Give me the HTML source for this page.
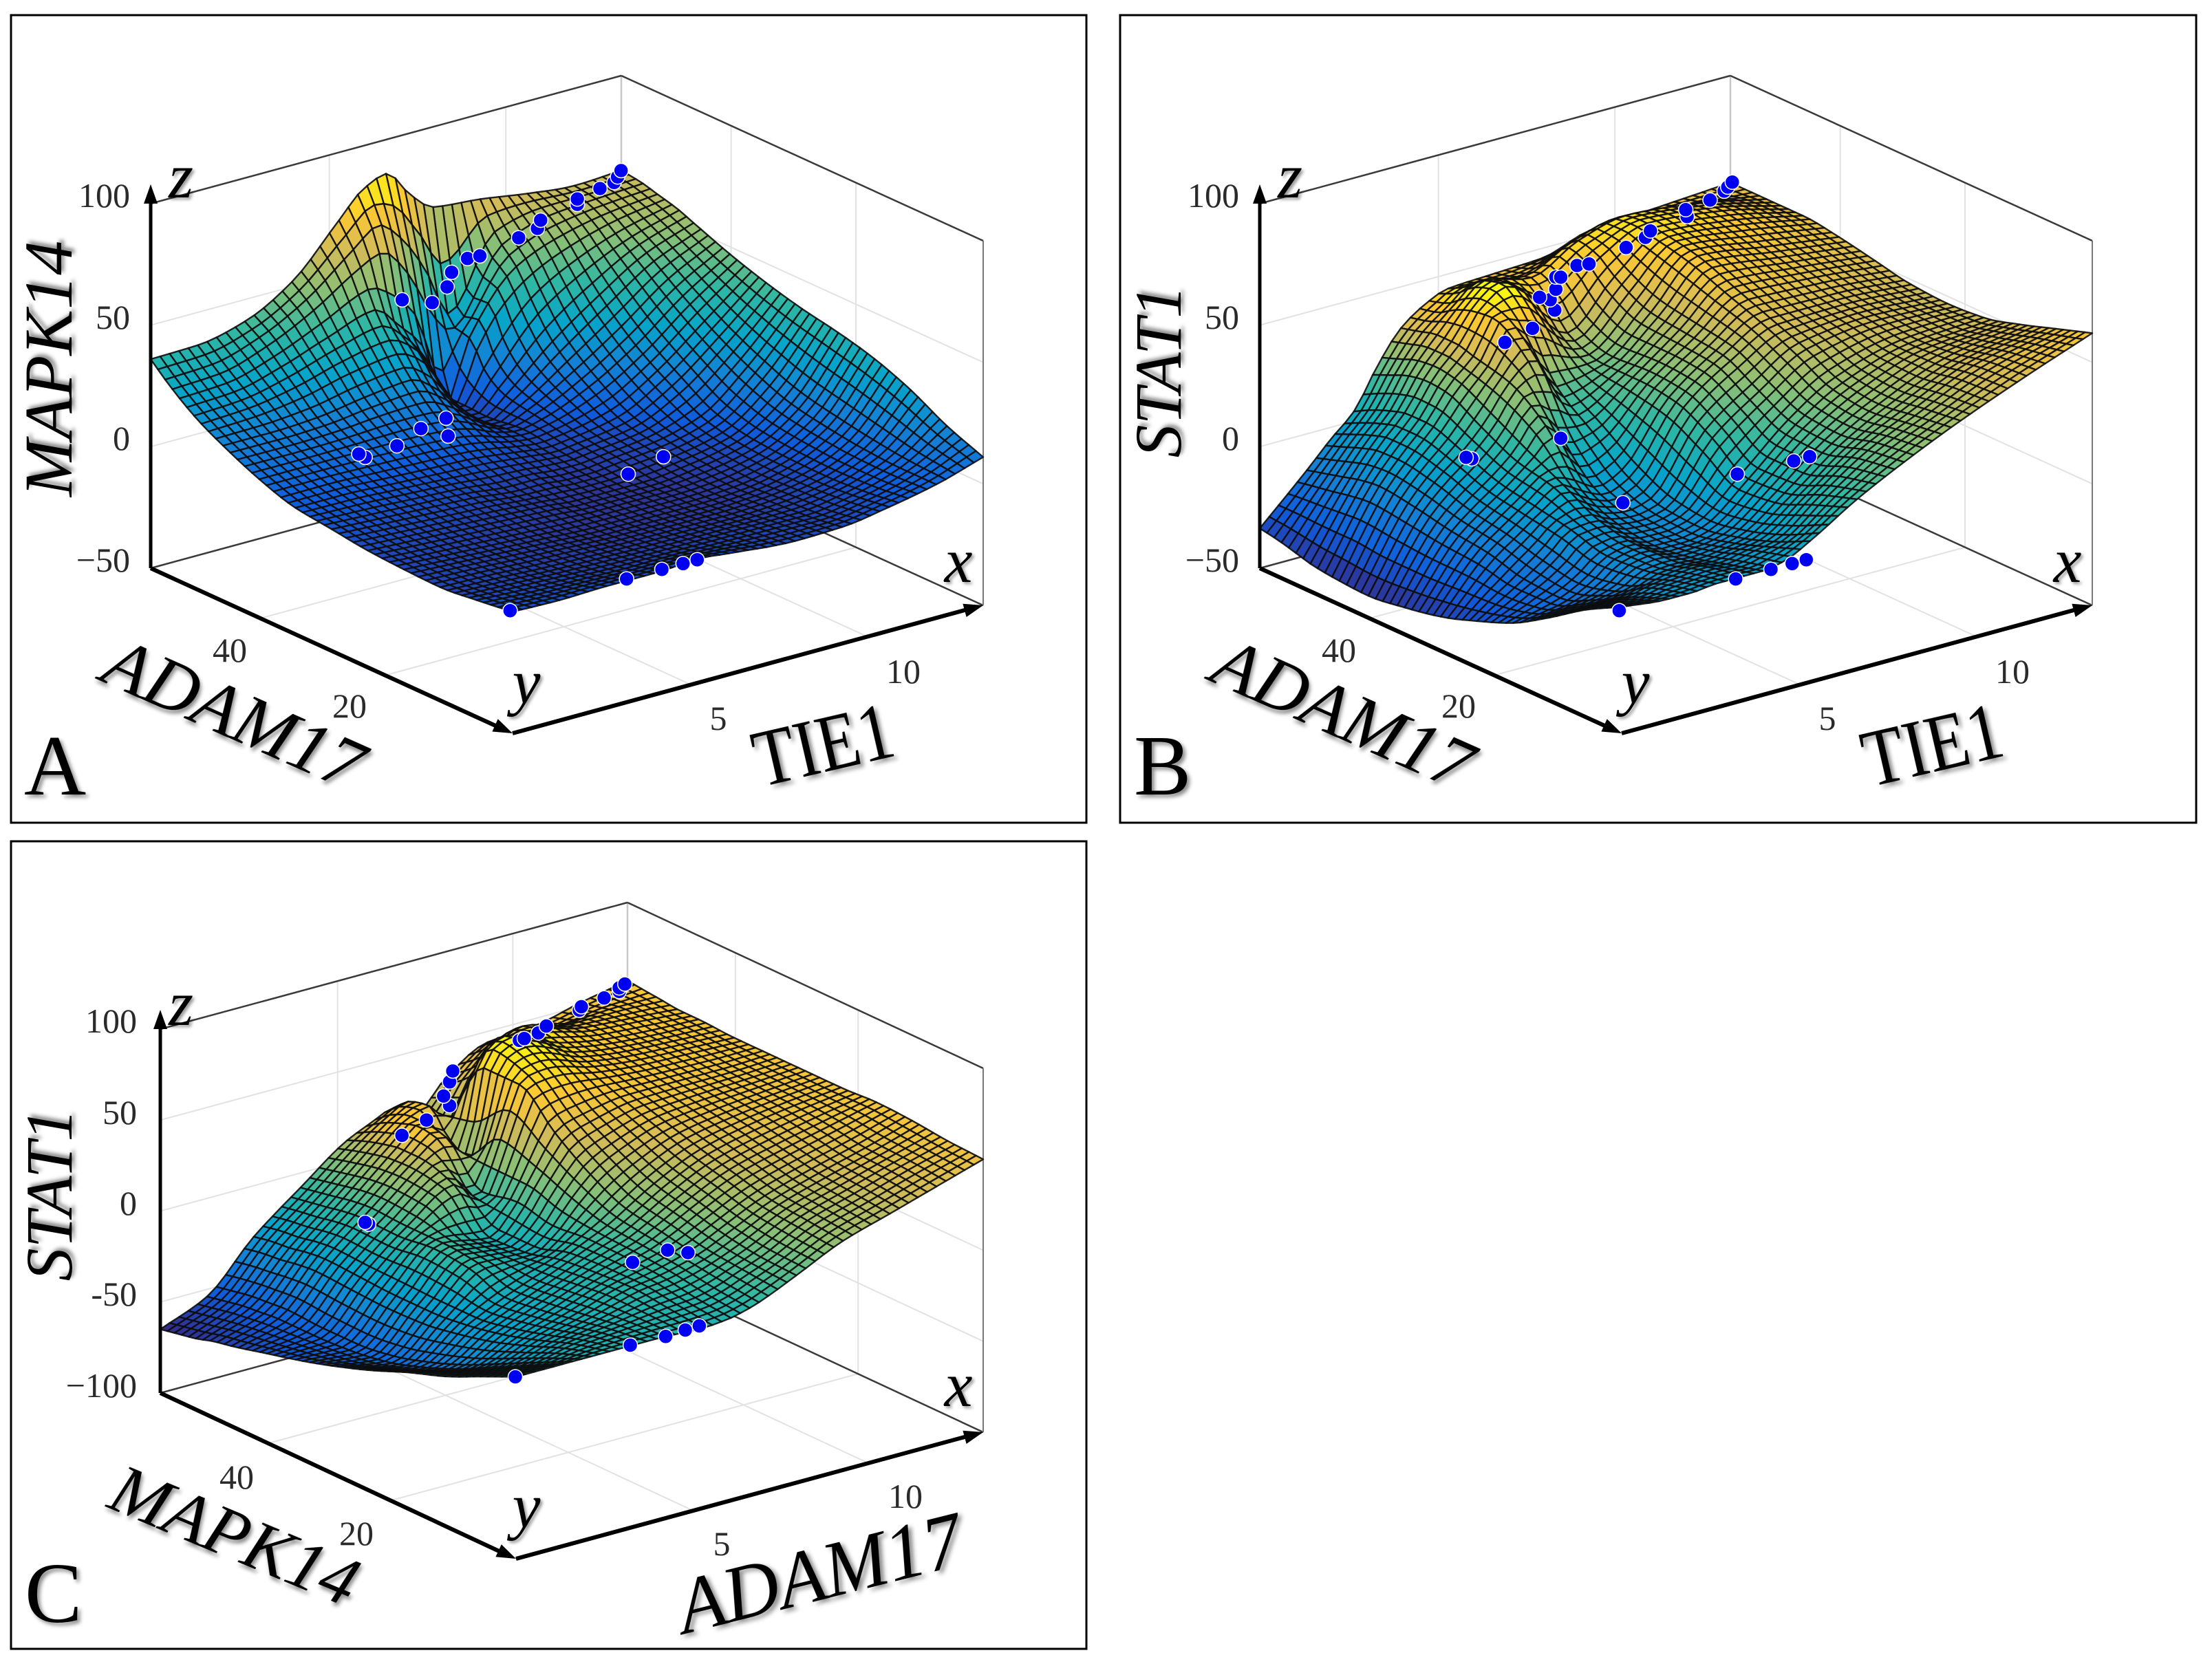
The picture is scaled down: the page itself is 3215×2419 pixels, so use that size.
<!DOCTYPE html>
<html lang="en">
<head>
<meta charset="utf-8">
<title>Response surfaces A, B, C</title>
<style>
html,body{margin:0;padding:0;background:#fff}
svg{display:block}
text{font-family:"Liberation Serif",serif;fill:#1c1c1c}
.tick{font-size:50px;fill:#2a2a2a}
.title{font-size:100px;fill:#000;filter:drop-shadow(4px 4px 3px rgba(0,0,0,.45))}
.ital{font-style:italic}
.axis-letter{font-size:92px;font-style:italic;fill:#000;filter:drop-shadow(3px 3px 2px rgba(0,0,0,.4))}
.panel-letter{font-size:125px;fill:#000;filter:drop-shadow(4px 4px 3px rgba(0,0,0,.45))}
</style>
</head>
<body>
<svg id="figure" xmlns="http://www.w3.org/2000/svg" width="3215" height="2419" viewBox="0 0 3215 2419">
  <rect width="3215" height="2419" fill="#fff"/>
  <rect x="16" y="22" width="1563" height="1174" fill="none" stroke="#000" stroke-width="3"/>
  <rect x="1628" y="22" width="1564" height="1174" fill="none" stroke="#000" stroke-width="3"/>
  <rect x="16" y="1223" width="1563" height="1174" fill="none" stroke="#000" stroke-width="3"/>
  <g id="panel-a"></g>
  <g id="panel-b"></g>
  <g id="panel-c"></g>

  <g>
    <text class="tick" x="189" y="301" text-anchor="end">100</text>
    <text class="tick" x="189" y="478" text-anchor="end">50</text>
    <text class="tick" x="189" y="654" text-anchor="end">0</text>
    <text class="tick" x="189" y="831" text-anchor="end">−50</text>
    <text class="tick" x="1044" y="1061" text-anchor="middle">5</text>
    <text class="tick" x="1313" y="993" text-anchor="middle">10</text>
    <text class="tick" x="334" y="962" text-anchor="middle">40</text>
    <text class="tick" x="508" y="1043" text-anchor="middle">20</text>
    <text class="axis-letter" x="1393" y="846" text-anchor="middle">x</text>
    <text class="axis-letter" x="765" y="1022" text-anchor="middle">y</text>
    <text class="axis-letter" x="263" y="287" text-anchor="middle">z</text>
    <text class="title ital" transform="translate(104,536) rotate(-90)" text-anchor="middle">MAPK14</text>
    <text class="title ital" transform="translate(143,988) rotate(24)" style="font-size:106px">ADAM17</text>
    <text class="title" transform="translate(1105,1144) rotate(-13) scale(1,1.18)">TIE1</text>
    <text class="panel-letter" x="35" y="1155">A</text>
  </g>
  <g>
    <text class="tick" x="1801" y="301" text-anchor="end">100</text>
    <text class="tick" x="1801" y="478" text-anchor="end">50</text>
    <text class="tick" x="1801" y="654" text-anchor="end">0</text>
    <text class="tick" x="1801" y="831" text-anchor="end">−50</text>
    <text class="tick" x="2656" y="1061" text-anchor="middle">5</text>
    <text class="tick" x="2925" y="993" text-anchor="middle">10</text>
    <text class="tick" x="1946" y="962" text-anchor="middle">40</text>
    <text class="tick" x="2120" y="1043" text-anchor="middle">20</text>
    <text class="axis-letter" x="3005" y="846" text-anchor="middle">x</text>
    <text class="axis-letter" x="2377" y="1022" text-anchor="middle">y</text>
    <text class="axis-letter" x="1875" y="287" text-anchor="middle">z</text>
    <text class="title ital" transform="translate(1716,540) rotate(-90)" text-anchor="middle" style="font-size:96px">STAT1</text>
    <text class="title ital" transform="translate(1755,988) rotate(24)" style="font-size:106px">ADAM17</text>
    <text class="title" transform="translate(2717,1144) rotate(-13) scale(1,1.18)">TIE1</text>
    <text class="panel-letter" x="1648" y="1155">B</text>
  </g>
  <g>
    <text class="tick" x="199" y="1501" text-anchor="end">100</text>
    <text class="tick" x="199" y="1634" text-anchor="end">50</text>
    <text class="tick" x="199" y="1766" text-anchor="end">0</text>
    <text class="tick" x="199" y="1898" text-anchor="end">-50</text>
    <text class="tick" x="199" y="2031" text-anchor="end">−100</text>
    <text class="tick" x="1049" y="2261" text-anchor="middle">5</text>
    <text class="tick" x="1316" y="2192" text-anchor="middle">10</text>
    <text class="tick" x="344" y="2164" text-anchor="middle">40</text>
    <text class="tick" x="518" y="2246" text-anchor="middle">20</text>
    <text class="axis-letter" x="1393" y="2044" text-anchor="middle">x</text>
    <text class="axis-letter" x="765" y="2220" text-anchor="middle">y</text>
    <text class="axis-letter" x="263" y="1490" text-anchor="middle">z</text>
    <text class="title ital" transform="translate(104,1737) rotate(-90)" text-anchor="middle" style="font-size:96px">STAT1</text>
    <text class="title ital" transform="translate(153,2190) rotate(22.7)" style="font-size:102px">MAPK14</text>
    <text class="title ital" transform="translate(995,2375) rotate(-14) scale(1.1,1.12)" style="font-size:102px">ADAM17</text>
    <text class="panel-letter" x="36" y="2358">C</text>
  </g>
</svg>
<script>
/* ---------- shared axis data ---------- */
const xTicks = [5, 10];
const yTicks = [20, 40];
const zTicksAB = [0, 50];
const zTicksC = [-50, 0, 50];
const xKnotsAC = [-0.06, 1.27, 2.61, 3.94, 5.27, 5.94, 6.61, 7.27, 7.94, 9.27, 10.61, 11.94, 13.27];
const xKnotsB = [-0.06, 1.27, 1.94, 2.61, 3.27, 3.94, 4.61, 5.27, 6.61, 7.94, 9.27, 11.27, 13.27];
const yKnots = [-0.4, 5.4, 11.2, 17, 22.8, 28.6, 34.4, 40.2, 46, 48.9, 51.8, 54.7, 57.6];
const yShiftKnots = [-0.4, 22.8, 31.5, 40.2, 48.9, 57.6];

/* ---------- panel A surface: MAPK14 over TIE1 / ADAM17 (rows = y, columns = x) ---------- */
const surfaceA = [
  [0, -0.5, 0, 0, 1, 0, -1, -2, -2.5, -2, 1, 5, 11],
  [-2, -3, -3.5, -4, -4, -4, -4, -4, -4, -4, -1, 5, 17],
  [-3.5, -4, -5, -5.5, -6, -6, -6, -6, -6, -5, -2, 6, 25],
  [-3, -4, -5, -6, -7, -7, -7, -7, -7, -6, -2, 8, 31],
  [-2, -3, -4, -5, -6, -7, -7, -7, -7, -5, -1, 11, 35],
  [0, -1, -2, -3, -5, -5, -6, -6, -5, -3, 2, 17, 38],
  [2, 2, 1, 0, -1, -2, -3, -4, -3, 0, 10, 25, 42],
  [7, 7, 7, 7, 6, 4, 0, -2, 0, 8, 20, 35, 47],
  [14, 14, 15, 18, 20, 14, 4, -4, 3, 20, 34, 46, 53],
  [18, 19, 22, 27, 30, 25, 10, -4, 8, 31, 43, 51, 56],
  [23, 24, 29, 36, 42, 33, 22, -5, 20, 44, 52, 56, 58],
  [29, 30, 36, 46, 60, 66, 56, 40, 22, 52, 58, 59, 60],
  [36, 36.5, 41, 52, 72, 82, 86, 75, 67, 65, 62, 60, 61]
];
const pointXA = [-0.06, 3.24, 4.24, 4.84, 5.24, 8.34, 9.34, 0.89, 0.71, 1.79, 2.47, 3.24, 3.18, 6.04, 6.89, 7.31, 7.44, 7.89, 8.24, 9.34, 9.87, 9.96, 11, 11, 11.64, 12.04, 12.14, 12.24];
const pointYA = [0, 0, 0, 0, 0, 28.6, 28.6, 28.6, 28.6, 28.6, 28.6, 28.6, 28.6, 51.8, 51.8, 51.8, 51.8, 51.8, 51.8, 51.8, 51.8, 51.8, 51.8, 51.8, 51.8, 51.8, 51.8, 51.8];
const pointZA = [0, 0, 0, 0, 0, -10.5, -7.3, 25.8, 27.9, 27, 31.4, 25.3, 32.9, 43.1, 38.6, 43.4, 48.9, 52.8, 52.5, 55.6, 57.4, 60.4, 62.8, 65, 66.8, 67.7, 69.6, 71.8];

/* ---------- panel B surface: STAT1 over TIE1 / ADAM17 ---------- */
const surfaceB = [
  [2, 0, 0, 1, 1, 1, 3, 8, 20, 30, 39, 51, 62],
  [-6, -6, -4, -3, -2, -3, -1, 1, 15, 28, 37, 50, 57],
  [-16, -14, -12, -7, -6, -7, -6, -4, 9, 24, 35, 47, 52],
  [-25, -20, -15, -8, -6, -9, -9, -7, 8, 25, 37, 46, 48],
  [-31, -19, -12, -4, -3, -7, -8, -6, 18, 32, 44, 48, 47],
  [-36, -15, -8, -1, 5, 0, -4, 0, 26, 40, 50, 50, 48],
  [-39, -13, -5, 2, 10, 20, 10, 12, 28, 42, 56, 54, 51],
  [-41, -10, 0, 8, 18, 31, 38, 24, 28, 44, 62, 58, 54],
  [-40, -8, 3, 13, 26, 35, 50, 50, 34, 52, 65, 62, 56],
  [-39, -9, 3, 13, 27, 37, 50, 56, 44, 58, 66, 63, 56],
  [-37, -11, 1, 11, 26, 37, 47, 54, 50, 60, 65, 62, 56],
  [-35, -13, -2, 8, 23, 35, 42, 48, 47, 52, 58, 57, 56],
  [-33.6, -15, -5, 4, 20, 33, 40, 44, 45, 46, 52, 54, 56]
];
const colourShiftB = [
  [0, 0, 0, 0, 0, 0, 0, 0, 0, 0, 0, 0, 0],
  [0, 0, 0, 0, 0, 0, 0, 0, 0, 0, 0, 0, 0],
  [0, 0, 0, 3, 6, 8, 0, 0, 0, 0, 0, 0, 0],
  [0, 0, 0, 3, 6, 8, 6, 2, 0, 0, 0, 0, 0],
  [0, 0, 0, 3, 6, 15, 21, 26, 12, 6, 4, 2, 0],
  [0, 0, 0, 3, 6, 15, 21, 26, 16, 10, 8, 4, 0]
];
const pointXB = [-0.06, 3.24, 4.24, 4.84, 5.24, 8.34, 9.94, 10.39, 5.1, 0.82, 0.66, 3.34, 5.86, 6.64, 7.27, 7.14, 6.84, 7.3, 7.3, 7.44, 7.9, 8.24, 9.29, 9.84, 9.98, 11.02, 10.98, 11.67, 12.07, 12.17, 12.3];
const pointYB = [0, 0, 0, 0, 0, 28.6, 28.6, 28.6, 28.6, 28.6, 28.6, 28.6, 51.8, 51.8, 51.8, 51.8, 51.8, 51.8, 51.8, 51.8, 51.8, 51.8, 51.8, 51.8, 51.8, 51.8, 51.8, 51.8, 51.8, 51.8, 51.8];
const pointZB = [0, 0, 0, 0, 0, -10.5, -11.4, -11.4, -9.5, 25.5, 26.7, 24, 26.3, 29, 34, 38.8, 41, 42.5, 47.5, 46.9, 49.9, 49.2, 51.8, 53.8, 55.9, 57.7, 60.7, 61.9, 64, 65.3, 66.8];

/* ---------- panel C surface: STAT1 over ADAM17 / MAPK14 ---------- */
const surfaceC = [
  [0, 0, 0, 0, -1, 0, 3, 8, 14, 26, 34, 42, 50],
  [-9, -10, -5, -2, 1, 2, 5, 10, 15, 28, 36, 44, 51],
  [-18, -20, -12, -5, 3, 5, 8, 12, 18, 30, 38, 45, 53],
  [-25, -30, -18, -8, 2, 6, 10, 16, 23, 35, 42, 48, 54],
  [-33, -38, -22, -10, 0, 6, 12, 20, 28, 40, 46, 50, 53],
  [-40, -44, -24, -4, -5, 3, 18, 30, 37, 46, 49, 51, 53],
  [-46, -47, -24, -2, -6, 6, 26, 44, 48, 52, 52, 52, 53],
  [-51, -48, -23, -2, 14, 4, 32, 62, 64, 58, 55, 54, 53],
  [-56, -48, -22, -1, 20, 28, 14, 66, 72, 62, 57, 55, 54],
  [-58, -49, -23, -2, 20, 30, 20, 50, 66, 64, 58, 56, 54],
  [-61, -50, -25, -4, 18, 28, 32, 16, 44, 62, 56, 56, 55],
  [-63, -52, -26, -6, 15, 24, 30, 18, 34, 52, 50, 54, 56],
  [-65, -54, -28, -8, 11, 17, 22, 15, 28, 44, 46, 52, 57]
];
const colourShiftC = [
  [0, 0, 0, 0, 0, 0, 0, 0, 0, 0, 0, 0, 0],
  [0, 3, 5, 5, 0, 0, 0, 0, 0, 0, 0, 0, 0],
  [0, 4, 6, 10, 0, 0, 0, 0, 0, 0, 0, 0, 0],
  [0, 4, 8, 12, 10, 0, 0, 0, 0, 0, 0, 0, 0],
  [0, 4, 8, 12, 20, 32, 10, 0, 0, 0, 0, 0, 0],
  [0, 4, 8, 12, 20, 32, 30, 20, 10, 5, 5, 0, 0]
];
const pointXC = [-0.01, 3.27, 4.28, 4.84, 5.24, 8.34, 9.34, 9.92, 0.81, 0.71, 5.82, 6.52, 7.18, 7.01, 7.18, 7.27, 9.17, 9.31, 9.71, 9.94, 10.88, 10.94, 11.59, 12.02, 12.02, 12.18];
const pointYC = [0, 0, 0, 0, 0, 28.6, 28.6, 28.6, 28.6, 28.6, 51.8, 51.8, 51.8, 51.8, 51.8, 51.8, 51.8, 51.8, 51.8, 51.8, 51.8, 51.8, 51.8, 51.8, 51.8, 51.8];
const pointZC = [-0.9, -0.6, -1.1, -0.5, -0.3, -26.5, -25, -29.4, 33.8, 35.3, 20, 24.8, 29.3, 35.4, 42.3, 47.8, 54.7, 55, 56, 58.6, 62.4, 64, 65.4, 66.7, 68.7, 70];

/* ---------- colour map stops ---------- */
const parulaStops = [[53,42,135],[15,92,221],[20,129,214],[6,164,202],[46,183,164],[135,191,119],[209,187,89],[254,200,50],[249,251,14]];

const NS = 'http://www.w3.org/2000/svg';
const MESH = 50;
const X_MIN = -0.06, X_MAX = 13.27, Y_MIN = -0.4, Y_MAX = 57.6;

function xAxis(x){ return (x - X_MIN) / (X_MAX - X_MIN); }
function yAxis(y){ return (y - Y_MIN) / (Y_MAX - Y_MIN); }

/* monotone cubic interpolation */
function pchip(xs, ys, x){
  const n = xs.length;
  if (x <= xs[0]) return ys[0];
  if (x >= xs[n-1]) return ys[n-1];
  let i = 0;
  while (i < n - 2 && x > xs[i+1]) i++;
  const h = xs[i+1] - xs[i];
  const sec = k => (ys[k+1] - ys[k]) / (xs[k+1] - xs[k]);
  const tan = k => {
    if (k === 0) return sec(0);
    if (k === n-1) return sec(n-2);
    const a = sec(k-1), b = sec(k);
    if (a * b <= 0) return 0;
    const h0 = xs[k] - xs[k-1], h1 = xs[k+1] - xs[k];
    const w1 = 2*h1 + h0, w2 = h1 + 2*h0;
    return (w1 + w2) / (w1/a + w2/b);
  };
  const t = (x - xs[i]) / h, m0 = tan(i) * h, m1 = tan(i+1) * h;
  const t2 = t*t, t3 = t2*t;
  return (2*t3-3*t2+1)*ys[i] + (t3-2*t2+t)*m0 + (-2*t3+3*t2)*ys[i+1] + (t3-t2)*m1;
}
function linear(xs, ys, x){
  const n = xs.length;
  if (x <= xs[0]) return ys[0];
  if (x >= xs[n-1]) return ys[n-1];
  let i = 0;
  while (i < n - 2 && x > xs[i+1]) i++;
  return ys[i] + (ys[i+1]-ys[i]) * (x-xs[i]) / (xs[i+1]-xs[i]);
}
function parula(c){
  c = Math.max(0, Math.min(1, c)) * (parulaStops.length - 1);
  const i = Math.min(parulaStops.length - 2, Math.floor(c)), f = c - i;
  const a = parulaStops[i], b = parulaStops[i+1];
  return 'rgb(' + [0,1,2].map(k => Math.round(a[k] + (b[k]-a[k]) * f)).join(',') + ')';
}

function buildPanel(cfg){
  const root = document.getElementById(cfg.id);
  const zAxis = z => (z - cfg.zMin) / (cfg.zMax - cfg.zMin);
  const project = (u, v, w) => [
    cfg.ox + cfg.ex[0]*u + cfg.ey[0]*v,
    cfg.oy + cfg.ex[1]*u + cfg.ey[1]*v - cfg.height*w
  ];
  const addLine = (name, a, b, stroke, width) => {
    const el = document.createElementNS(NS, 'line');
    
    
    el.setAttribute('x1', a[0].toFixed(1));
    el.setAttribute('y1', a[1].toFixed(1));
    el.setAttribute('x2', b[0].toFixed(1));
    el.setAttribute('y2', b[1].toFixed(1));
    el.setAttribute('stroke', stroke);
    el.setAttribute('stroke-width', width);
    root.appendChild(el);
  };
  const addArrow = (name, a, b) => {
    const d = Math.hypot(b[0]-a[0], b[1]-a[1]);
    const ux = (b[0]-a[0])/d, uy = (b[1]-a[1])/d;
    const L = 28, W = 10;
    const pts = [b, [b[0]-ux*L-uy*W, b[1]-uy*L+ux*W], [b[0]-ux*L+uy*W, b[1]-uy*L-ux*W]];
    const el = document.createElementNS(NS, 'polygon');
    
    
    el.setAttribute('points', pts.map(p => p[0].toFixed(1)+','+p[1].toFixed(1)).join(' '));
    el.setAttribute('fill', '#000');
    root.appendChild(el);
  };

  /* grid lines on floor and back walls */
  const GRID = '#e2e2e2';
  cfg.xTicks.forEach(x => {
    const u = xAxis(x);
    addLine('floor-grid-x', project(u,0,0), project(u,1,0), GRID, 2);
    addLine('wall-grid-x', project(u,1,0), project(u,1,1), GRID, 2);
  });
  cfg.yTicks.forEach(y => {
    const v = yAxis(y);
    addLine('floor-grid-y', project(0,v,0), project(1,v,0), GRID, 2);
    addLine('wall-grid-y', project(1,v,0), project(1,v,1), GRID, 2);
  });
  cfg.zTicks.forEach(z => {
    const w = zAxis(z);
    addLine('wall-grid-z', project(0,1,w), project(1,1,w), GRID, 2);
    addLine('wall-grid-z', project(1,1,w), project(1,0,w), GRID, 2);
  });
  addLine('back-edge', project(1,1,0), project(1,1,1), '#c8c8c8', 2.5);

  /* thin box edges */
  const EDGE = '#3a3a3a';
  addLine('box-edge', project(0,1,0), project(1,1,0), EDGE, 2.5);
  addLine('box-edge', project(1,1,0), project(1,0,0), EDGE, 2.5);
  addLine('box-edge', project(0,1,1), project(1,1,1), EDGE, 2.5);
  addLine('box-edge', project(1,1,1), project(1,0,1), EDGE, 2.5);
  addLine('box-edge', project(1,0,0), project(1,0,1), '#777', 2);

  /* interpolate the surface grid to mesh nodes */
  const nodes = [], shifts = [];
  for (let i = 0; i <= MESH; i++){
    const x = X_MIN + (X_MAX - X_MIN) * i / MESH;
    const col = cfg.surface.map(row => pchip(cfg.xKnots, row, x));
    const colS = cfg.shift ? cfg.shift.map(row => linear(cfg.xKnots, row, x)) : null;
    nodes.push([]); shifts.push([]);
    for (let j = 0; j <= MESH; j++){
      const y = Y_MIN + (Y_MAX - Y_MIN) * j / MESH;
      nodes[i].push(pchip(yKnots, col, y));
      shifts[i].push(colS ? linear(yShiftKnots, colS, y) : 0);
    }
  }
  /* back-to-front painter's order */
  const surf = document.createElementNS(NS, 'g');
  
  
  surf.setAttribute('stroke', '#0c0c0c');
  surf.setAttribute('stroke-width', '2.4');
  surf.setAttribute('stroke-opacity', '0.9');
  surf.setAttribute('stroke-linejoin', 'round');
  root.appendChild(surf);
  for (let i = MESH - 1; i >= 0; i--){
    for (let j = MESH - 1; j >= 0; j--){
      const corners = [[i,j],[i+1,j],[i+1,j+1],[i,j+1]];
      let sum = 0, sh = 0;
      const pts = corners.map(c => {
        const z = nodes[c[0]][c[1]];
        sum += z; sh += shifts[c[0]][c[1]];
        const p = project(c[0]/MESH, c[1]/MESH, zAxis(z));
        return p[0].toFixed(1) + ',' + p[1].toFixed(1);
      });
      const el = document.createElementNS(NS, 'polygon');
      
      
      el.setAttribute('points', pts.join(' '));
      el.setAttribute('fill', parula(((sum + sh)/4 - cfg.cLow) / (cfg.cHigh - cfg.cLow)));
      surf.appendChild(el);
    }
  }

  /* heavy axes with arrows */
  const L = project(0,1,0), F = project(0,0,0), R = project(1,0,0);
  const zTop = [L[0], L[1] - cfg.height - 28];
  addLine('z-axis', L, [zTop[0], zTop[1] + 20], '#000', 5);
  addArrow('z-axis-arrow', [L[0], L[1]], zTop);
  addLine('y-axis', L, [F[0]-16, F[1]-7], '#000', 6);
  addArrow('y-axis-arrow', L, F);
  addLine('x-axis', F, [R[0]-16, R[1]+4], '#000', 6);
  addArrow('x-axis-arrow', F, R);

  /* sample points */
  cfg.px.forEach((x, k) => {
    const p = project(xAxis(x), yAxis(cfg.py[k]), zAxis(cfg.pz[k]));
    const el = document.createElementNS(NS, 'circle');
    
    
    el.setAttribute('cx', p[0].toFixed(1));
    el.setAttribute('cy', p[1].toFixed(1));
    el.setAttribute('r', '10.5');
    el.setAttribute('fill', '#0000f2');
    el.setAttribute('stroke', '#ffffff');
    el.setAttribute('stroke-width', '1.5');
    root.appendChild(el);
  });
}

buildPanel({id:'panel-a', ox:745, oy:1066, ex:[684,-186], ey:[-526,-240], height:530, zMin:-50, zMax:100,
  xTicks:xTicks, yTicks:yTicks, zTicks:zTicksAB, xKnots:xKnotsAC, surface:surfaceA, shift:null,
  cLow:-10, cHigh:86, px:pointXA, py:pointYA, pz:pointZA});
buildPanel({id:'panel-b', ox:2357, oy:1066, ex:[684,-186], ey:[-526,-240], height:530, zMin:-50, zMax:100,
  xTicks:xTicks, yTicks:yTicks, zTicks:zTicksAB, xKnots:xKnotsB, surface:surfaceB, shift:colourShiftB,
  cLow:-42, cHigh:78, px:pointXB, py:pointYB, pz:pointZB});
buildPanel({id:'panel-c', ox:750, oy:2266, ex:[679,-184], ey:[-517,-241], height:529, zMin:-100, zMax:100,
  xTicks:xTicks, yTicks:yTicks, zTicks:zTicksC, xKnots:xKnotsAC, surface:surfaceC, shift:colourShiftC,
  cLow:-64, cHigh:74, px:pointXC, py:pointYC, pz:pointZC});
</script>
</body>
</html>
